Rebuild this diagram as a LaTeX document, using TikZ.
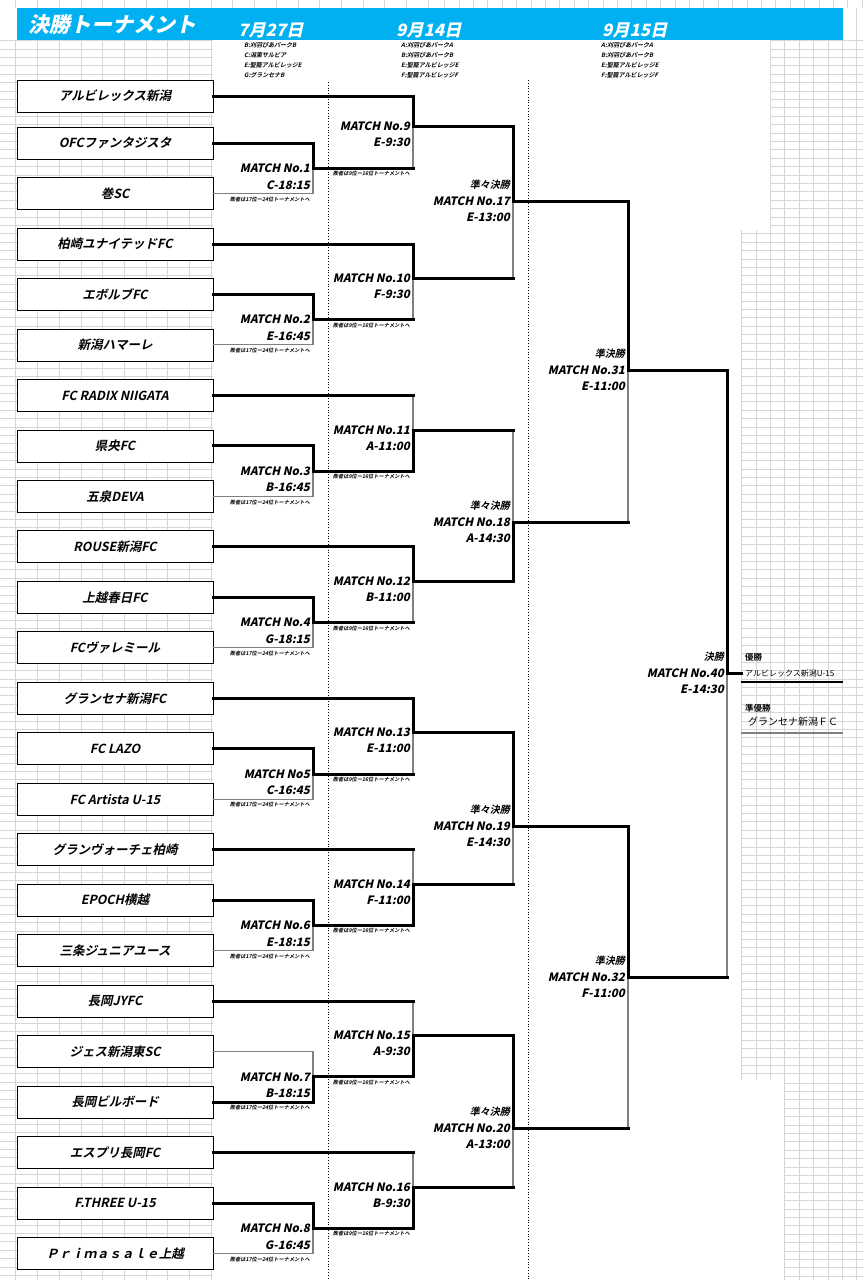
\documentclass[tikz,border=0pt]{standalone}
\usepackage{fontspec}
\setmainfont{Noto Sans CJK JP}[BoldFont={Noto Sans CJK JP Bold}]
\newfontfamily\jpbi{Noto Sans CJK JP Bold}[FakeSlant=0.22]
\newfontfamily\jpblk{Noto Sans CJK JP Black}[FakeSlant=0.22]
\usetikzlibrary{positioning}
\definecolor{bandblue}{RGB}{0,176,240}
\definecolor{gridgray}{RGB}{214,214,214}
\definecolor{losegray}{RGB}{128,128,128}

\begin{document}
\begin{tikzpicture}[x=1pt,y=-1pt,line join=miter,
  grid/.style={draw=gridgray,line width=0.6pt},
  team/.style={draw,fill=white,line width=0.8pt,minimum width=196pt,minimum height=32pt,
    inner sep=0pt,font=\jpbi\fontsize{12.5}{12.5}\selectfont},
  win/.style={line width=3pt,line cap=rect},
  lose/.style={line width=1.1pt,draw=losegray},
  mnum/.style={anchor=east,inner sep=0pt,font=\jpblk\fontsize{11.5}{11.5}\selectfont},
  rnd/.style={anchor=east,inner sep=0pt,font=\jpbi\fontsize{10}{10}\selectfont},
  note/.style={anchor=east,inner sep=0pt,font=\jpbi\fontsize{5.2}{5.2}\selectfont},
  venue/.style={anchor=west,inner sep=0pt,font=\jpbi\fontsize{6}{6}\selectfont},
  date/.style={anchor=west,inner sep=0pt,text=white,font=\jpblk\fontsize{17}{17}\selectfont},
  result/.style={anchor=west,inner sep=0pt}]
\useasboundingbox (0,0) rectangle (863,1280);
\fill[white] (0,0) rectangle (863,1280);

% cell grid
\foreach \x in {15.7,37.4,...,430} \draw[grid] (\x,0) -- (\x,8);
\foreach \x in {444.5,458.9,...,863} \draw[grid] (\x,0) -- (\x,8);
\foreach \y in {40.4,48.8,...,1280} \draw[grid] (0,\y) -- (213,\y);
\foreach \x in {15.7,37.4,...,213} \draw[grid] (\x,40) -- (\x,1280);
\foreach \y in {40.4,48.8,...,230} \draw[grid] (770.3,\y) -- (863,\y);
\foreach \y in {233.6,242,...,1080} \draw[grid] (741.5,\y) -- (863,\y);
\foreach \y in {1082.8,1091.2,...,1280} \draw[grid] (784.7,\y) -- (863,\y);
\foreach \x in {770.3,784.7,...,863} \draw[grid] (\x,8) -- (\x,230);
\foreach \x in {741.5,755.9,...,863} \draw[grid] (\x,230) -- (\x,1080);
\foreach \x in {784.7,799.1,...,863} \draw[grid] (\x,1080) -- (\x,1280);

% header
\fill[bandblue] (17,8) rectangle (843,40);
\node[anchor=west,inner sep=0pt,text=white,font=\jpblk\fontsize{21}{21}\selectfont] (title) at (28,25) {決勝トーナメント};
\node[date] (d1) at (238,30) {7月27日};
\node[date] (d2) at (396,30) {9月14日};
\node[date] (d3) at (602,30) {9月15日};
\foreach \j/\t in {0/B:刈羽ぴあパークB, 1/C:潟東サルビア, 2/E:聖籠アルビレッジE, 3/G:グランセナB}
  \node[venue] (va\j) at (244,45+10*\j) {\t};
\foreach \j/\t in {0/A:刈羽ぴあパークA, 1/B:刈羽ぴあパークB, 2/E:聖籠アルビレッジE, 3/F:聖籠アルビレッジF} {
  \node[venue] (vb\j) at (401,45+10*\j) {\t};
  \node[venue] (vc\j) at (601,45+10*\j) {\t};
}
\draw[dotted,line width=0.8pt] (328,82) -- (328,1280);
\draw[dotted,line width=0.8pt] (528,80) -- (528,1280);

% teams
\foreach \i/\y/\name in {1/96/アルビレックス新潟, 2/143/OFCファンタジスタ, 3/193.5/巻SC,
  4/244/柏崎ユナイテッドFC, 5/294.4/エボルブFC, 6/344.9/新潟ハマーレ,
  7/395.4/FC RADIX NIIGATA, 8/445.9/県央FC, 9/496.4/五泉DEVA,
  10/546.8/ROUSE新潟FC, 11/597.3/上越春日FC, 12/647.8/FCヴァレミール,
  13/698.3/グランセナ新潟FC, 14/748.8/FC LAZO, 15/799.2/FC Artista U-15,
  16/849.7/グランヴォーチェ柏崎, 17/900.2/EPOCH横越, 18/950.7/三条ジュニアユース,
  19/1001.2/長岡JYFC, 20/1051.6/ジェス新潟東SC, 21/1102.1/長岡ビルボード,
  22/1152.6/エスプリ長岡FC, 23/1203.1/F.THREE U-15, 24/1253.6/Ｐｒｉｍａｓａｌｅ上越}
  \node[team] (t\i) at (115,\y) {\name};

% matches
\foreach \n/\y/\lab/\tm in {1/168.3/MATCH No.1/C-18:15, 2/319.7/MATCH No.2/E-16:45,
  3/471.2/MATCH No.3/B-16:45, 4/622.6/MATCH No.4/G-18:15, 5/774/MATCH No5/C-16:45,
  6/925.5/MATCH No.6/E-18:15, 7/1076.9/MATCH No.7/B-18:15, 8/1228.4/MATCH No.8/G-16:45} {
  \coordinate (m\n) at (313,\y);
  \node[mnum] (lab\n) at (310,\y) {\lab};
  \node[mnum] (tm\n) at (310,\y+16.5) {\tm};
  \node[note] (nt\n) at (310,\y+31) {敗者は17位ー24位トーナメントへ};
}
\foreach \n/\y/\tm/\ny in {9/126/E-9:30/173.8, 10/278/F-9:30/325.2, 11/430/A-11:00/476.7,
  12/581/B-11:00/628.1, 13/732/E-11:00/779.5, 14/884/F-11:00/931,
  15/1035/A-9:30/1082.4, 16/1187/B-9:30/1233.9} {
  \coordinate (m\n) at (413,\y);
  \node[mnum] (lab\n) at (410,\y) {MATCH No.\n};
  \node[mnum] (tm\n) at (410,\y+16.5) {\tm};
  \node[note] (nt\n) at (410,\ny) {敗者は9位ー16位トーナメントへ};
}
\foreach \n/\y/\tm in {17/201/E-13:00, 18/522/A-14:30, 19/826/E-14:30, 20/1128/A-13:00} {
  \coordinate (m\n) at (513,\y);
  \node[rnd] (rd\n) at (510,\y-16.5) {準々決勝};
  \node[mnum] (lab\n) at (510,\y) {MATCH No.\n};
  \node[mnum] (tm\n) at (510,\y+16.5) {\tm};
}
\foreach \n/\y/\tm in {31/370/E-11:00, 32/977/F-11:00} {
  \coordinate (m\n) at (628,\y);
  \node[rnd] (rd\n) at (625,\y-16.5) {準決勝};
  \node[mnum] (lab\n) at (625,\y) {MATCH No.\n};
  \node[mnum] (tm\n) at (625,\y+16.5) {\tm};
}
\coordinate (m40) at (727,673);
\node[rnd] (rd40) at (724,656.5) {決勝};
\node[mnum] (lab40) at (724,673) {MATCH No.40};
\node[mnum] (tm40) at (724,689.5) {E-14:30};

% bracket lines
\foreach \n/\w/\l in {1/2/3, 2/5/6, 3/8/9, 4/11/12, 5/14/15, 6/17/18, 7/21/20, 8/23/24} {
  \draw[lose] (t\l.east) -| (m\n);
  \draw[win] (t\w.east) -| (m\n);
}
\foreach \n/\in in {9/m1, 10/m2, 11/t7.east, 12/m4, 13/m5, 14/t16.east, 15/t19.east,
  16/t22.east, 17/m10, 18/m11, 19/m14, 20/m16, 31/m18, 32/m20, 40/m32} {
  \draw[lose] (\in -| m\n) -- (m\n);
  \draw[win] (\in) -- (\in -| m\n);
}
\foreach \n/\in in {9/t1.east, 10/t4.east, 11/m3, 12/t10.east, 13/t13.east, 14/m6, 15/m7,
  16/m8, 17/m9, 18/m12, 19/m13, 20/m15, 31/m17, 32/m19, 40/m31}
  \draw[win] (\in) -| (m\n);

% results
\node[result,font=\bfseries\fontsize{8.5}{8.5}\selectfont] (gold) at (745,657) {優勝};
\node[result,font=\fontsize{8}{8}\selectfont,inner xsep=4pt] (champ) at (741,673) {アルビレックス新潟U-15};
\draw[win] (m40) -- (champ.west);
\draw[line width=1.2pt] (741,682) -- (843,682);
\node[result,font=\bfseries\fontsize{8.5}{8.5}\selectfont] (silver) at (745,708) {準優勝};
\node[result,font=\fontsize{10}{10}\selectfont] (second) at (748,722) {グランセナ新潟ＦＣ};
\draw[draw=losegray,line width=1.5pt] (741,733) -- (843,733);
\end{tikzpicture}
\end{document}
